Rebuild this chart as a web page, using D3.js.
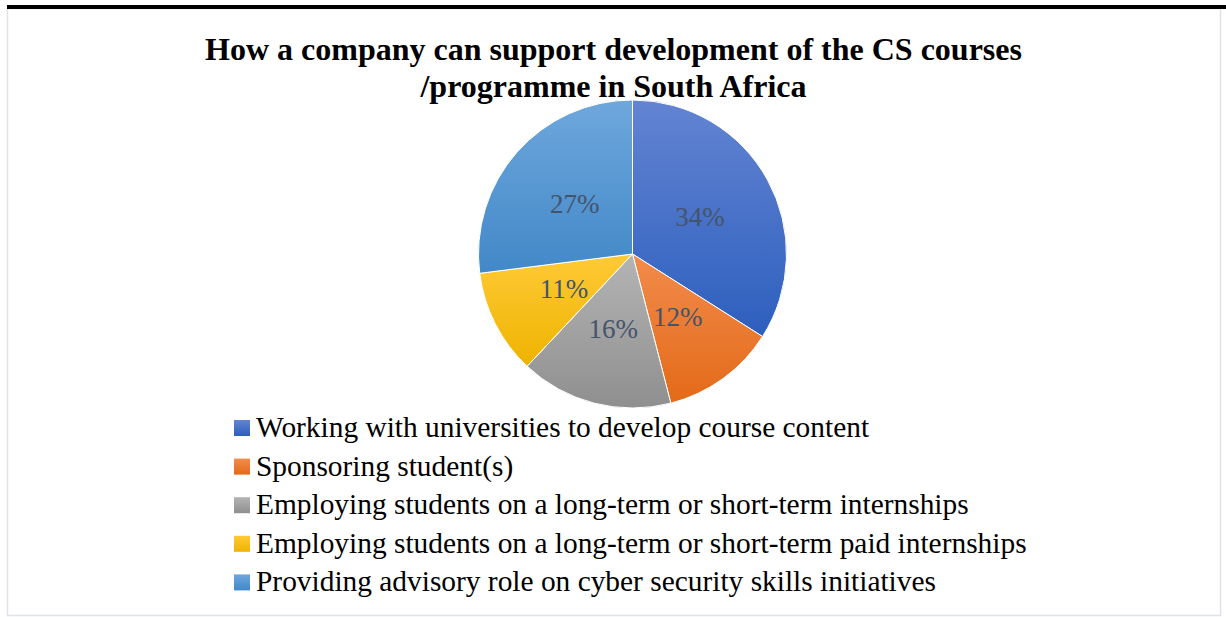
<!DOCTYPE html>
<html>
<head>
<meta charset="utf-8">
<script src="https://cdn.jsdelivr.net/npm/d3@7"></script>
<style>
  html, body { margin: 0; padding: 0; background: #fff; }
  svg { display: block; }
</style>
</head>
<body>
<svg id="chart" width="1226" height="617"></svg>
<script>
// Survey responses: how a company can support CS course development
const categories = [
  "Working with universities to develop course content",
  "Sponsoring student(s)",
  "Employing students on a long-term or short-term internships",
  "Employing students on a long-term or short-term paid internships",
  "Providing advisory role on cyber security skills initiatives"
];
const shares = [34, 12, 16, 11, 27];
const titleLines = [
  "How a company can support development of the CS courses",
  "/programme in South Africa"
];
// gradient stops per slice: lighter top, deeper bottom
const colorTop = ["#6384d2", "#f28b4c", "#b4b4b4", "#ffca36", "#6ea7dc"];
const colorBottom = ["#2d5fbe", "#e36a18", "#8f8f8f", "#eeb300", "#4288c8"];

const svg = d3.select("#chart");
const W = 1226, H = 617;

// frame
svg.append("rect")
  .attr("x", 7.5).attr("y", 8.5).attr("width", 1213).attr("height", 607)
  .attr("fill", "#fff").attr("stroke", "#dfe2e7").attr("stroke-width", 1.5);
svg.append("rect")
  .attr("x", 7).attr("y", 5).attr("width", W - 7).attr("height", 4)
  .attr("fill", "#000");

// title
const title = svg.append("text")
  .attr("text-anchor", "middle")
  .attr("font-family", "'Liberation Serif', 'Times New Roman', serif")
  .attr("font-weight", "bold")
  .attr("font-size", 32)
  .attr("fill", "#000");
title.selectAll("tspan").data(titleLines).join("tspan")
  .attr("x", 613.5)
  .attr("y", (d, i) => 60 + i * 37)
  .text(d => d);

// gradients
const defs = svg.append("defs");
const grads = defs.selectAll("linearGradient").data(shares).join("linearGradient")
  .attr("id", (d, i) => "g" + i)
  .attr("x1", 0).attr("y1", 0).attr("x2", 0).attr("y2", 1);
grads.append("stop").attr("offset", "0%").attr("stop-color", (d, i) => colorTop[i]);
grads.append("stop").attr("offset", "100%").attr("stop-color", (d, i) => colorBottom[i]);

// pie
const cx = 632.5, cy = 254, R = 154;
const pie = d3.pie().sort(null).value(d => d);
const arcs = pie(shares);
const arc = d3.arc().innerRadius(0).outerRadius(R);
const labelArc = d3.arc().innerRadius(R * 0.5).outerRadius(R * 0.5);

const g = svg.append("g").attr("transform", `translate(${cx},${cy})`);
g.selectAll("path").data(arcs).join("path")
  .attr("d", arc)
  .attr("fill", (d, i) => `url(#g${i})`)
  .attr("stroke", "#fff")
  .attr("stroke-width", 1);

g.selectAll("text.lbl").data(arcs).join("text")
  .attr("class", "lbl")
  .attr("transform", d => `translate(${labelArc.centroid(d)})`)
  .attr("text-anchor", "middle")
  .attr("dy", "0.35em")
  .attr("font-family", "'Liberation Serif', 'Times New Roman', serif")
  .attr("font-size", 27)
  .attr("fill", "#44546a")
  .text(d => d.data + "%");

// legend
const legend = svg.append("g").attr("transform", "translate(234,420)");
const rows = legend.selectAll("g").data(categories).join("g")
  .attr("transform", (d, i) => `translate(0,${i * 38.6})`);
rows.append("rect")
  .attr("width", 16).attr("height", 16)
  .attr("fill", (d, i) => `url(#g${i})`);
rows.append("text")
  .attr("x", 22).attr("y", 17)
  .attr("font-family", "'Liberation Serif', 'Times New Roman', serif")
  .attr("font-size", 29.4)
  .attr("fill", "#000")
  .text(d => d);
</script>
</body>
</html>
